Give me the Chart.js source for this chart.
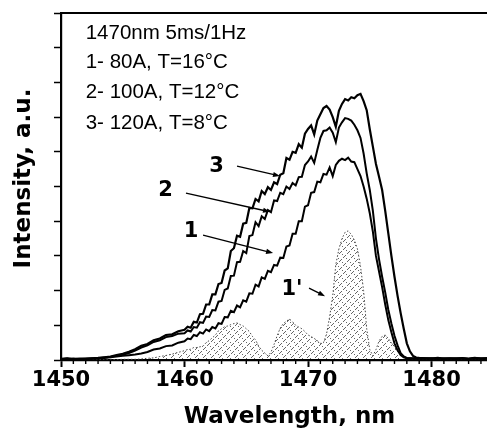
<!DOCTYPE html>
<html>
<head>
<meta charset="utf-8">
<script src="https://cdn.jsdelivr.net/npm/chart.js@4.4.1/dist/chart.umd.min.js"></script>
<style>
  html, body { margin: 0; padding: 0; background: #fff; overflow: hidden; }
  #wrap { width: 518px; height: 429px; }
</style>
</head>
<body>
<div id="wrap"><canvas id="spectrum"></canvas></div>
<script>
// wavelength grid, nm
const wavelength = [
    1450, 1450.5, 1451, 1451.5, 1452, 1452.5, 1453, 1453.5, 1454, 1454.5, 1455, 1455.5, 1456, 1456.5, 1457, 1457.5, 1458, 1458.5, 1459, 1459.5, 1460,
    1460.25, 1460.5, 1460.75, 1461, 1461.25, 1461.5, 1461.75, 1462, 1462.25, 1462.5, 1462.75, 1463, 1463.25, 1463.5, 1463.75, 1464,
    1464.25, 1464.5, 1464.75, 1465, 1465.25, 1465.5, 1465.75, 1466, 1466.25, 1466.5, 1466.75, 1467, 1467.25, 1467.5, 1467.75, 1468,
    1468.25, 1468.5, 1468.75, 1469, 1469.25, 1469.5, 1469.75, 1470, 1470.25, 1470.5, 1470.75, 1471, 1471.25, 1471.5, 1471.75, 1472,
    1472.25, 1472.5, 1472.75, 1473, 1473.25, 1473.5, 1473.75, 1474, 1474.25, 1474.5, 1474.75, 1475, 1475.25, 1475.5, 1475.75, 1476,
    1476.25, 1476.5, 1476.75, 1477, 1477.25, 1477.5, 1477.75, 1478, 1478.25, 1478.5, 1478.75, 1479,
    1479.5, 1480, 1480.5, 1481, 1481.5, 1482, 1482.5, 1483, 1483.5, 1484, 1484.5, 1485, 1485.5, 1486, 1486.5, 1487,
];

// 3- 120A, T=8°C
const curve3 = [
    0.03, 0.05, 0.02, 0.04, 0.03, 0.05, 0.06, 0.08, 0.10, 0.14, 0.18, 0.24, 0.31, 0.41, 0.46, 0.57, 0.62, 0.72, 0.74, 0.83, 0.87,
    0.96, 0.93, 1.10, 1.08, 1.32, 1.33, 1.60, 1.60, 1.89, 1.89, 2.19, 2.22, 2.58, 2.64, 3.14, 3.22,
    3.58, 3.55, 3.93, 3.95, 4.38, 4.37, 4.64, 4.57, 4.87, 4.78, 4.98, 4.90, 5.12, 5.07, 5.34, 5.38,
    5.82, 5.77, 6.00, 5.97, 6.22, 6.12, 6.52, 6.66, 6.76, 6.50, 6.90, 7.08, 7.26, 7.32, 7.22, 7.00,
    6.72, 7.18, 7.38, 7.52, 7.48, 7.57, 7.54, 7.63, 7.67, 7.46, 7.20, 6.65, 6.15, 5.65, 5.28, 4.90,
    4.30, 3.65, 3.00, 2.40, 1.85, 1.35, 0.90, 0.48, 0.25, 0.12, 0.07, 0.06,
    0.05, 0.04, 0.06, 0.04, 0.05, 0.03, 0.05, 0.04, 0.06, 0.04, 0.05, 0.04, 0.05, 0.03, 0.05, 0.04,
];

// 2- 100A, T=12°C
const curve2 = [
    0.02, 0.04, 0.03, 0.03, 0.04, 0.04, 0.05, 0.07, 0.09, 0.12, 0.15, 0.20, 0.27, 0.36, 0.42, 0.52, 0.57, 0.66, 0.69, 0.76, 0.77,
    0.85, 0.82, 0.95, 0.93, 1.09, 1.07, 1.25, 1.24, 1.44, 1.43, 1.68, 1.70, 2.02, 2.06, 2.42, 2.43,
    2.82, 2.83, 3.14, 3.08, 3.57, 3.60, 3.97, 3.86, 4.14, 4.06, 4.32, 4.26, 4.60, 4.58, 4.82, 4.78,
    5.00, 4.93, 5.10, 5.03, 5.27, 5.28, 5.62, 5.72, 5.86, 5.68, 6.05, 6.40, 6.60, 6.62, 6.70, 6.55,
    6.28, 6.70, 6.85, 6.97, 6.95, 6.90, 6.78, 6.62, 6.40, 5.95, 5.38, 4.90, 4.30, 3.50, 2.90, 2.40,
    1.95, 1.45, 1.05, 0.70, 0.42, 0.20, 0.10, 0.06, 0.05, 0.05, 0.04, 0.05,
    0.04, 0.05, 0.03, 0.05, 0.04, 0.04, 0.06, 0.03, 0.05, 0.04, 0.05, 0.03, 0.04, 0.05, 0.04, 0.05,
];

// 1- 80A, T=16°C
const curve1 = [
    0.03, 0.02, 0.04, 0.03, 0.03, 0.04, 0.05, 0.06, 0.08, 0.10, 0.12, 0.14, 0.16, 0.19, 0.23, 0.30, 0.33, 0.40, 0.42, 0.50, 0.54,
    0.62, 0.60, 0.72, 0.69, 0.80, 0.76, 0.88, 0.83, 0.95, 0.91, 1.06, 1.04, 1.24, 1.23, 1.42, 1.38,
    1.57, 1.52, 1.72, 1.68, 1.92, 1.91, 2.17, 2.12, 2.38, 2.34, 2.57, 2.53, 2.74, 2.72, 2.95, 2.94,
    3.27, 3.30, 3.64, 3.64, 4.00, 4.00, 4.42, 4.46, 4.82, 4.84, 5.14, 5.12, 5.36, 5.34, 5.55, 5.30,
    5.62, 5.74, 5.80, 5.76, 5.83, 5.72, 5.70, 5.50, 5.30, 5.00, 4.65, 4.23, 3.70, 3.00, 2.55, 2.10,
    1.60, 1.15, 0.80, 0.48, 0.28, 0.14, 0.08, 0.05, 0.05, 0.04, 0.05, 0.04,
    0.05, 0.04, 0.05, 0.03, 0.04, 0.05, 0.04, 0.03, 0.05, 0.04, 0.04, 0.05, 0.03, 0.04, 0.05, 0.04,
];

// 1' (dotted, hatched)
const curve1p = [
    0.01, 0.02, 0.01, 0.02, 0.01, 0.02, 0.01, 0.02, 0.02, 0.01, 0.02, 0.02, 0.02, 0.03, 0.05, 0.06, 0.10, 0.13, 0.17, 0.22, 0.27,
    0.30, 0.31, 0.36, 0.36, 0.38, 0.40, 0.50, 0.56, 0.64, 0.72, 0.84, 0.90, 0.96, 0.98, 1.02, 1.05,
    1.07, 1.02, 0.98, 0.90, 0.82, 0.68, 0.58, 0.40, 0.28, 0.20, 0.12, 0.22, 0.45, 0.70, 0.92, 1.05,
    1.12, 1.18, 1.10, 1.00, 0.95, 0.90, 0.82, 0.72, 0.68, 0.62, 0.56, 0.48, 0.50, 0.75, 1.25, 1.85,
    2.75, 3.20, 3.50, 3.68, 3.72, 3.62, 3.46, 3.20, 2.70, 2.00, 0.90, 0.30, 0.12, 0.30, 0.55, 0.68,
    0.72, 0.62, 0.50, 0.38, 0.25, 0.14, 0.08, 0.05, 0.04, 0.03, 0.03, 0.03,
    0.02, 0.02, 0.01, 0.02, 0.02, 0.01, 0.02, 0.02, 0.01, 0.02, 0.02, 0.01, 0.02, 0.02, 0.01, 0.02,
];

const notes = ['1470nm 5ms/1Hz', '1- 80A, T=16°C', '2- 100A, T=12°C', '3- 120A, T=8°C'];
const callouts = ['3', '2', '1', "1'"];

const boldFont = "'DejaVu Sans', sans-serif";
const toPoints = (values) => wavelength.map((x, i) => ({ x, y: values[i] }));

const canvas = document.getElementById('spectrum');
const ctx = canvas.getContext('2d');

const hatch = (() => {
    const tile = document.createElement('canvas');
    tile.width = 8;
    tile.height = 8;
    const t = tile.getContext('2d');
    t.fillStyle = 'rgba(0, 0, 0, 0.6)';
    [[0, 0], [2, 2], [4, 4], [6, 6], [7, 1], [5, 3], [3, 5], [1, 7]].forEach(([a, b]) => t.fillRect(a, b, 1, 1));
    return ctx.createPattern(tile, 'repeat');
})();

const drawArrow = (c, x1, y1, x2, y2) => {
    const ang = Math.atan2(y2 - y1, x2 - x1);
    c.beginPath();
    c.moveTo(x1, y1);
    c.lineTo(x2 - 5 * Math.cos(ang), y2 - 5 * Math.sin(ang));
    c.stroke();
    c.beginPath();
    c.moveTo(x2, y2);
    c.lineTo(x2 - 7 * Math.cos(ang) + 2.6 * Math.sin(ang), y2 - 7 * Math.sin(ang) - 2.6 * Math.cos(ang));
    c.lineTo(x2 - 7 * Math.cos(ang) - 2.6 * Math.sin(ang), y2 - 7 * Math.sin(ang) + 2.6 * Math.cos(ang));
    c.closePath();
    c.fill();
};

const annotate = {
    id: 'annotate',
    afterDraw(chart) {
        const { ctx: c, chartArea: area, scales: { x, y } } = chart;
        const px = (v) => x.getPixelForValue(v);
        const py = (v) => y.getPixelForValue(v);

        c.save();
        c.strokeStyle = '#000';
        c.fillStyle = '#000';

        // top frame line
        c.lineWidth = 2.2;
        c.beginPath();
        c.moveTo(area.left - 1, area.top);
        c.lineTo(area.right, area.top);
        c.stroke();

        // minor ticks every 1 nm
        c.lineWidth = 1.4;
        for (let v = Math.ceil(x.min); v <= x.max; v++) {
            if (v % 10 === 0) continue;
            c.beginPath();
            c.moveTo(px(v), area.bottom);
            c.lineTo(px(v), area.bottom + 4);
            c.stroke();
        }

        // header notes
        c.font = "20.5px 'Liberation Sans', Arial, sans-serif";
        c.textAlign = 'left';
        c.textBaseline = 'alphabetic';
        const noteRows = [9.25, 8.415, 7.55, 6.66];
        notes.forEach((t, i) => c.fillText(t, px(1452.0), py(noteRows[i])));

        // curve callouts
        c.font = 'bold 21px ' + boldFont;
        c.textAlign = 'center';
        c.textBaseline = 'middle';
        const spots = [
            { at: [1462.59, 5.6], from: [1464.25, 5.59], to: [1467.73, 5.30] },
            { at: [1458.46, 4.9], from: [1460.12, 4.81], to: [1466.92, 4.27] },
            { at: [1460.53, 3.72], from: [1461.5, 3.60], to: [1467.17, 3.08] },
            { at: [1468.7, 2.07], from: [1470.08, 2.07], to: [1471.38, 1.84] },
        ];
        c.lineWidth = 1.3;
        callouts.forEach((t, i) => {
            const s = spots[i];
            c.fillText(t, px(s.at[0]), py(s.at[1]) + 1);
            drawArrow(c, px(s.from[0]), py(s.from[1]), px(s.to[0]), py(s.to[1]));
        });

        c.restore();
    },
};

new Chart(ctx, {
    type: 'line',
    data: {
        datasets: [
            { label: '3', data: toPoints(curve3), borderColor: '#000', borderWidth: 2.2, pointRadius: 0, fill: false },
            { label: '2', data: toPoints(curve2), borderColor: '#000', borderWidth: 2, pointRadius: 0, fill: false },
            { label: '1', data: toPoints(curve1), borderColor: '#000', borderWidth: 2, pointRadius: 0, fill: false },
            { label: "1'", data: toPoints(curve1p), borderColor: '#444', borderWidth: 1, borderDash: [1.5, 2], pointRadius: 0, fill: 'origin', backgroundColor: hatch },
        ],
    },
    options: {
        responsive: true,
        maintainAspectRatio: false,
        animation: false,
        events: [],
        layout: { padding: { top: 13, left: 0, right: 0, bottom: 0 } },
        plugins: { legend: { display: false }, tooltip: { enabled: false } },
        scales: {
            x: {
                type: 'linear',
                min: 1450,
                max: 1487,
                ticks: { stepSize: 10, includeBounds: false, color: '#000', padding: 3, callback: (v) => String(v), font: { family: boldFont, weight: 'bold', size: 21, lineHeight: 1 } },
                grid: { drawOnChartArea: false, tickLength: 7, tickColor: '#000', tickWidth: 2 },
                border: { color: '#000', width: 2.2 },
                title: { display: true, text: 'Wavelength, nm', color: '#000', padding: { top: 12, bottom: 0 }, font: { family: boldFont, weight: 'bold', size: 23, lineHeight: 1 } },
            },
            y: {
                min: 0,
                max: 10,
                ticks: { stepSize: 1, display: false },
                grid: { drawOnChartArea: false, tickLength: 7, tickColor: '#000', tickWidth: 1.5 },
                border: { color: '#000', width: 2.2 },
                title: { display: true, text: '  Intensity, a.u.', color: '#000', padding: { top: 13, bottom: 18 }, font: { family: boldFont, weight: 'bold', size: 23, lineHeight: 1 } },
            },
        },
    },
    plugins: [annotate],
});
</script>
</body>
</html>
